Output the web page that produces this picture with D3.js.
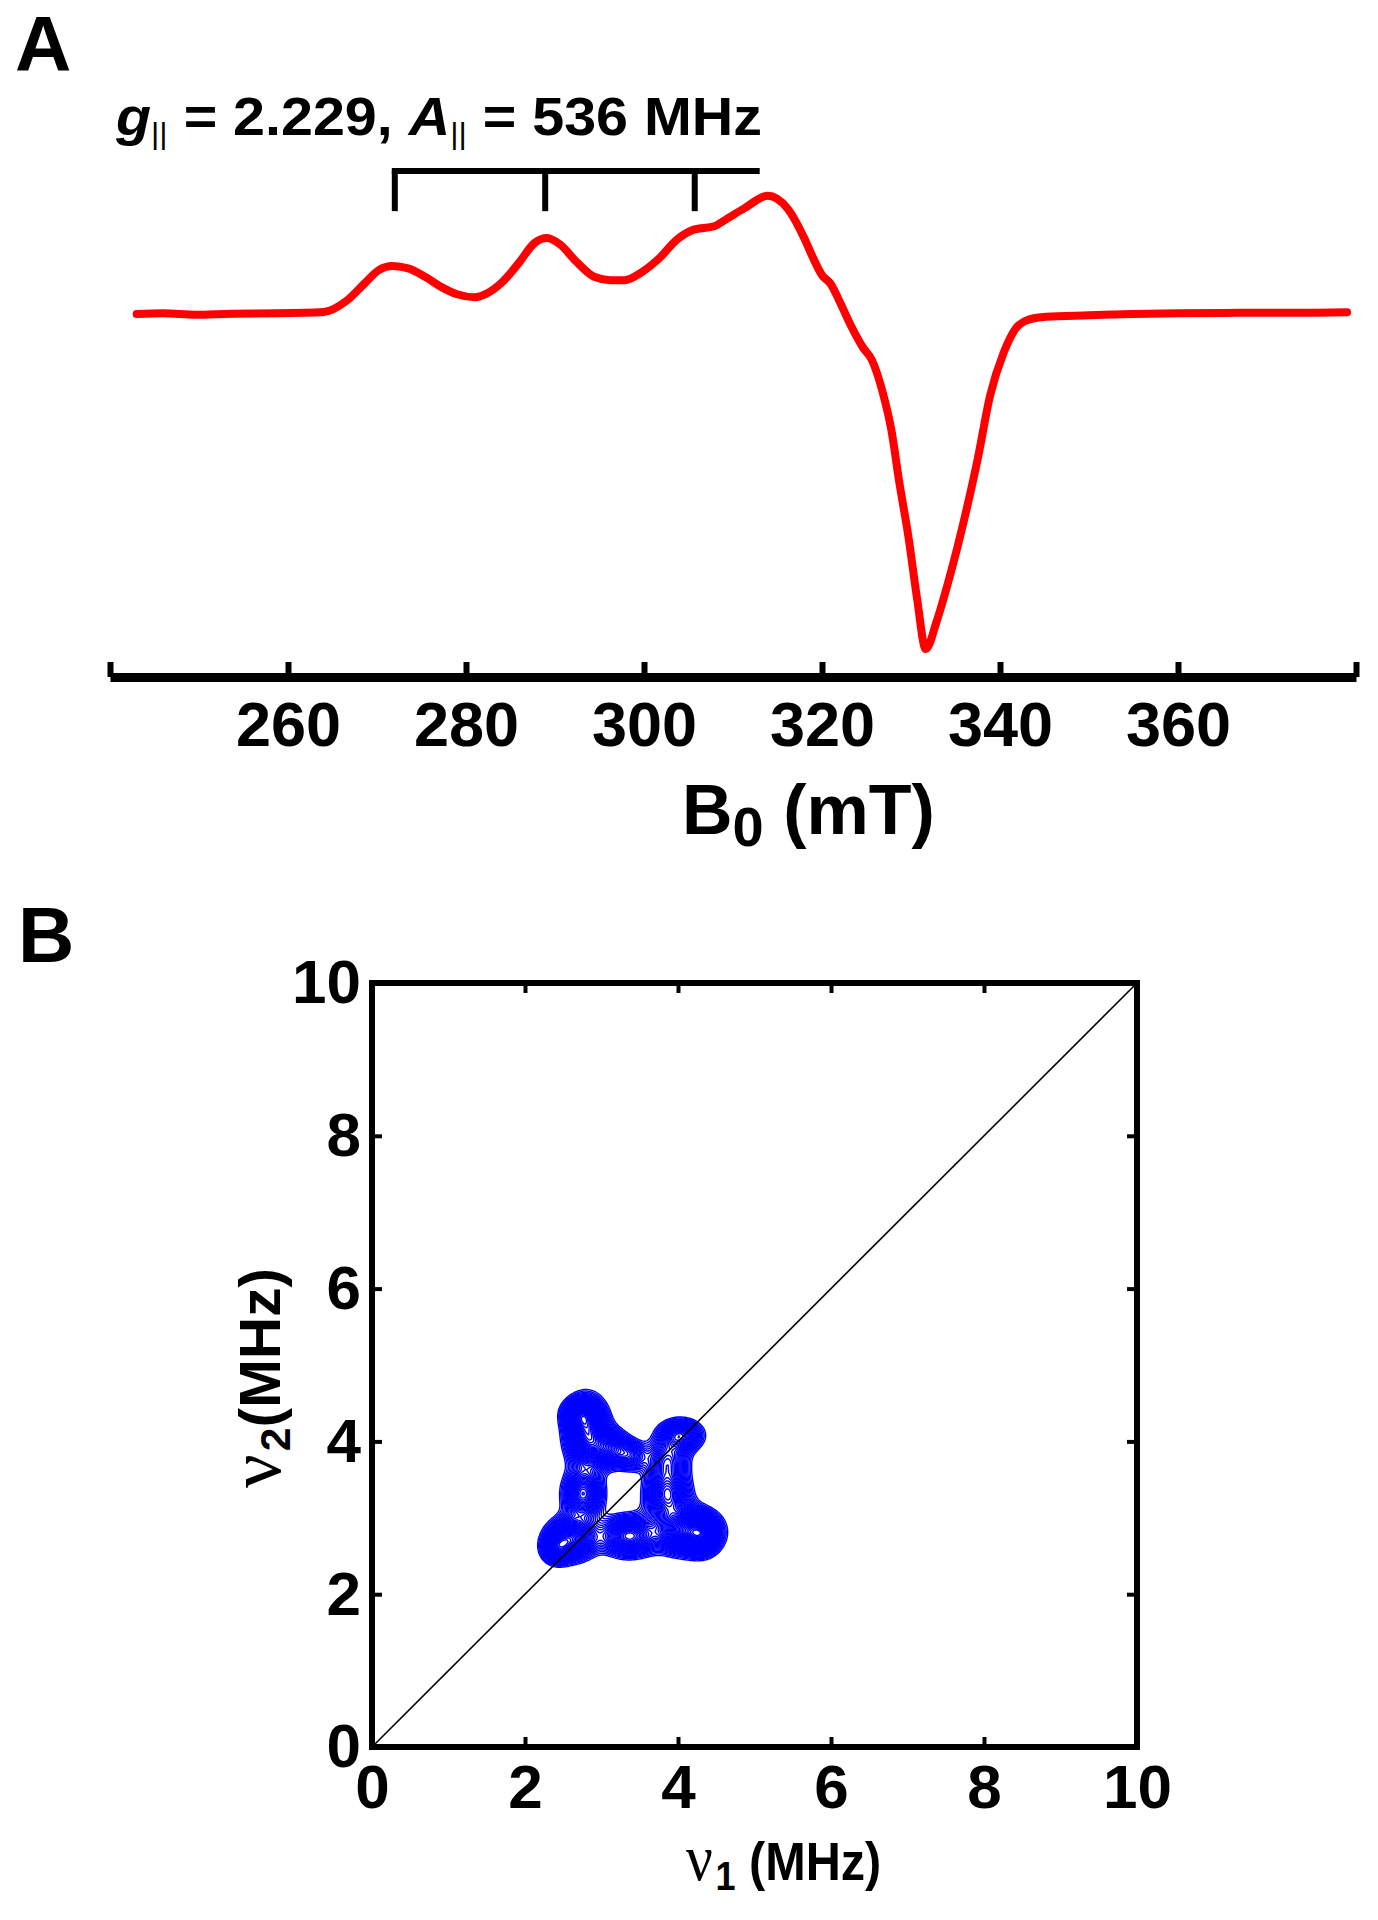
<!DOCTYPE html>
<html><head><meta charset="utf-8">
<script src="https://cdn.jsdelivr.net/npm/d3@7"></script>
<style>
body{margin:0;background:#fff}
svg{display:block}
text{font-family:"Liberation Sans",Arial,sans-serif;font-weight:bold;fill:#000}
</style>
</head><body>
<svg id="fig" width="1378" height="1920"></svg>
<script>
// ---------- Panel A: CW EPR spectrum (field in mT, normalized signal) ----------
const eprSpectrum = [
  [243,0],[246,0.002],[249.6,-0.002],[253.7,0.001],[258.8,0.002],[264,0.006],
  [266.6,0.04],[268.6,0.091],[270.2,0.131],[271.7,0.143],[273.5,0.136],[275.4,0.111],
  [277.2,0.081],[279,0.059],[281,0.05],[282.3,0.061],[284.1,0.096],[285.9,0.151],
  [287.7,0.212],[289.1,0.227],[290.6,0.207],[292.4,0.156],[294.4,0.111],[296.2,0.101],
  [297.8,0.101],[299.8,0.126],[301.7,0.166],[303.7,0.222],[305.6,0.252],[307.9,0.262],
  [309.3,0.284],[311.3,0.316],[313.9,0.353],[316.1,0.316],[318.1,0.221],[318.8,0.179],
  [320,0.116],[321,0.089],[321.9,0.042],[323.2,-0.032],[324.6,-0.1],[325.6,-0.137],
  [326.8,-0.232],[327.8,-0.347],[328.7,-0.505],[329.7,-0.663],[330.7,-0.853],[331.65,-1.0],
  [332.9,-0.916],[334.3,-0.789],[336,-0.611],[337.5,-0.432],[338.9,-0.242],[340.4,-0.116],
  [341.8,-0.042],[343.3,-0.016],[345.2,-0.008],[350,-0.004],[355,0],[360,0.002],
  [365,0.003],[370,0.004],[375,0.004],[379,0.005]
];
const fieldTicks = [240,260,280,300,320,340,360,380];
const fieldTickLabels = [260,280,300,320,340,360];
const bracketLines = [272, 288.9, 305.7];   // g|| hyperfine quartet positions (mT)
const bracketEnd = 313;
const bracketLevels = [0.427, 0.307];       // signal units: bar, tick ends

// ---------- Panel B: HYSCORE contour (peaks read from the map, MHz) ----------
// [nu1, nu2, amplitude, sigma1, sigma2]
const hyscorePeaks = [
  [2.80,4.10,1.0,0.17,0.27],
  [3.10,3.90,0.6,0.17,0.15],
  [2.70,4.35,0.5,0.14,0.12],
  [3.38,3.80,0.4,0.13,0.12],
  [2.75,3.30,0.75,0.16,0.20],
  [2.60,2.72,0.85,0.20,0.17],
  [2.40,2.58,0.5,0.12,0.12],
  [3.35,2.75,0.8,0.22,0.16],
  [4.10,2.82,1.0,0.25,0.18],
  [4.32,2.75,0.5,0.13,0.15],
  [3.85,3.30,0.75,0.18,0.22],
  [3.85,3.75,0.5,0.17,0.17],
  [4.02,4.07,0.65,0.18,0.13]
];
const freqTicks = [0,2,4,6,8,10];
const freqInnerTicks = [2,4,6,8];

const svg = d3.select("#fig");

// ================= Panel A =================
const xA = d3.scaleLinear().domain([240,380]).range([110,1356]);
const yA = d3.scaleLinear().domain([-1.1,0.5]).range([682.5,146.5]);
const axisY = 677;

svg.append("text").attr("x",15).attr("y",71).attr("font-size",78).text("A");

const ann = svg.append("text").attr("x",116).attr("y",135).attr("font-size",54)
  .attr("textLength",646).attr("lengthAdjust","spacingAndGlyphs");
ann.append("tspan").attr("font-style","italic").text("g");
ann.append("tspan").attr("font-size",30).attr("font-weight","normal").attr("dy",9).text("||");
ann.append("tspan").attr("dy",-9).text(" = 2.229, ");
ann.append("tspan").attr("font-style","italic").text("A");
ann.append("tspan").attr("font-size",30).attr("font-weight","normal").attr("dy",9).text("||");
ann.append("tspan").attr("dy",-9).text(" = 536 MHz");

// bracket
const br = svg.append("g").attr("stroke","#000").attr("stroke-width",6).attr("fill","none");
br.append("line").attr("x1",xA(bracketLines[0])-3).attr("x2",xA(bracketEnd))
  .attr("y1",yA(bracketLevels[0])).attr("y2",yA(bracketLevels[0]));
br.selectAll("line.t").data(bracketLines).join("line").attr("class","t")
  .attr("x1",d=>xA(d)).attr("x2",d=>xA(d))
  .attr("y1",yA(bracketLevels[0])).attr("y2",yA(bracketLevels[1]));

// spectrum
svg.append("path").datum(eprSpectrum)
  .attr("fill","none").attr("stroke","#ff0000").attr("stroke-width",8)
  .attr("stroke-linejoin","round").attr("stroke-linecap","round")
  .attr("d",d3.line().x(d=>xA(d[0])).y(d=>yA(d[1])).curve(d3.curveMonotoneX));

// axis
const gAx = svg.append("g").attr("transform",`translate(0,${axisY})`)
  .call(d3.axisBottom(xA).tickValues(fieldTicks).tickSizeInner(-15).tickSizeOuter(0).tickPadding(24)
    .tickFormat(d=>fieldTickLabels.includes(d)?d:""));
gAx.select(".domain").attr("stroke","#000").attr("stroke-width",9);
gAx.selectAll(".tick line").attr("stroke","#000").attr("stroke-width",6);
gAx.selectAll(".tick text").attr("font-size",63).attr("font-family",null).attr("fill","#000");

const xl = svg.append("text").attr("x",682).attr("y",834).attr("font-size",70);
xl.append("tspan").text("B");
xl.append("tspan").attr("font-size",56).attr("dy",12).text("0");
xl.append("tspan").attr("dy",-12).text(" (mT)");

// ================= Panel B =================
const xB = d3.scaleLinear().domain([0,10]).range([372,1137]);
const yB = d3.scaleLinear().domain([0,10]).range([1747,983]);

svg.append("text").attr("x",18).attr("y",962).attr("font-size",78).text("B");

// contour field from peaks
const g0 = 1.5, step = 0.02, n = 201;
const values = new Float64Array(n*n);
for (let j=0;j<n;j++){ for (let i=0;i<n;i++){
  const v1 = g0 + i*step, v2 = g0 + j*step;
  let s = 0;
  for (const [c1,c2,a,s1,s2] of hyscorePeaks){
    s += a*Math.exp(-((v1-c1)**2)/(2*s1*s1) - ((v2-c2)**2)/(2*s2*s2));
  }
  values[i + j*n] = s;
}}
const vmax = d3.max(values);
const levels = d3.range(0.12, vmax, (vmax-0.12)/44);
const contours = d3.contours().size([n,n]).thresholds(levels)(values);
const proj = d3.geoTransform({point(x,y){ this.stream.point(xB(g0 + x*step), yB(g0 + y*step)); }});
svg.append("g").attr("fill","none").attr("stroke","#0000ff").attr("stroke-width",1.4)
  .selectAll("path").data(contours).join("path").attr("d",d3.geoPath(proj));

// diagonal
svg.append("line").attr("x1",xB(0)).attr("y1",yB(0)).attr("x2",xB(10)).attr("y2",yB(10))
  .attr("stroke","#000").attr("stroke-width",1.6);

// axes with inward ticks
const styleAx = (g) => {
  g.select(".domain").remove();
  g.selectAll(".tick line").attr("stroke","#000").attr("stroke-width",4);
  g.selectAll(".tick text").attr("font-size",62).attr("font-family",null).attr("fill","#000");
};
svg.append("g").attr("transform",`translate(0,${yB(0)})`)
  .call(d3.axisBottom(xB).tickValues(freqTicks).tickSizeInner(-10).tickSizeOuter(0).tickPadding(17)
    .tickFormat(d3.format("d"))).call(styleAx);
svg.append("g").attr("transform",`translate(${xB(0)},0)`)
  .call(d3.axisLeft(yB).tickValues(freqTicks).tickSizeInner(-10).tickSizeOuter(0).tickPadding(11)
    .tickFormat(d3.format("d"))).call(styleAx);
svg.append("g").attr("transform",`translate(0,${yB(10)})`)
  .call(d3.axisTop(xB).tickValues(freqInnerTicks).tickSizeInner(-10).tickSizeOuter(0).tickFormat(""))
  .call(styleAx);
svg.append("g").attr("transform",`translate(${xB(10)},0)`)
  .call(d3.axisRight(yB).tickValues(freqInnerTicks).tickSizeInner(-10).tickSizeOuter(0).tickFormat(""))
  .call(styleAx);

svg.append("rect").attr("x",xB(0)).attr("y",yB(10)).attr("width",xB(10)-xB(0)).attr("height",yB(0)-yB(10))
  .attr("fill","none").attr("stroke","#000").attr("stroke-width",6);

// axis labels
const bx = svg.append("text").attr("transform","translate(686,1880) scale(0.9,1)").attr("font-size",54);
bx.append("tspan").attr("font-family","'Liberation Serif',serif").attr("font-weight","normal").attr("font-size",66).text("ν");
bx.append("tspan").attr("font-size",40).attr("dx",3).attr("dy",10).text("1");
bx.append("tspan").attr("dy",-10).text(" (MHz)");

const by = svg.append("text").attr("transform","translate(280,1488) rotate(-90)")
  .attr("font-size",58).attr("textLength",220).attr("lengthAdjust","spacingAndGlyphs");
by.append("tspan").attr("font-family","'Liberation Serif',serif").attr("font-weight","normal").attr("font-size",74).text("ν");
by.append("tspan").attr("font-size",42).attr("dx",3).attr("dy",10).text("2");
by.append("tspan").attr("dy",-10).text("(MHz)");
</script>
</body></html>
